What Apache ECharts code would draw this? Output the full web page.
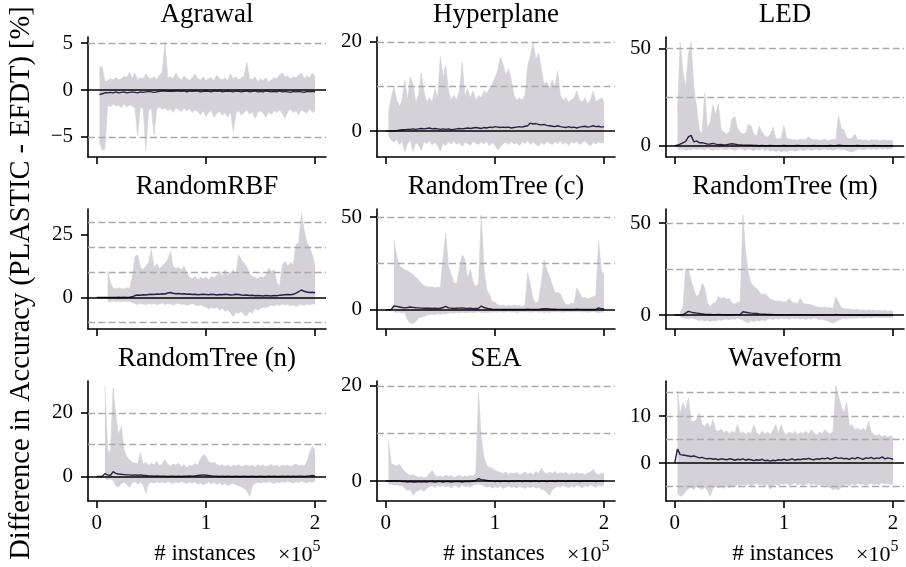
<!DOCTYPE html>
<html>
<head>
<meta charset="utf-8">
<script src="https://cdn.jsdelivr.net/npm/echarts@6/dist/echarts.min.js"></script>
<style>
html,body{margin:0;padding:0;background:#fff;}
#chart{width:906px;height:567px;}
</style>
</head>
<body>
<div id="chart"></div>
<script>
// ---- sample positions (×10^5 instances) ----
const X = [0,0.025,0.05,0.075,0.1,0.125,0.15,0.175,0.2,0.225,
0.25,0.275,0.3,0.325,0.35,0.375,0.4,0.425,0.45,0.475,
0.5,0.525,0.55,0.575,0.6,0.625,0.65,0.675,0.7,0.725,
0.75,0.775,0.8,0.825,0.85,0.875,0.9,0.925,0.95,0.975,
1,1.025,1.05,1.075,1.1,1.125,1.15,1.175,1.2,1.225,
1.25,1.275,1.3,1.325,1.35,1.375,1.4,1.425,1.45,1.475,
1.5,1.525,1.55,1.575,1.6,1.625,1.65,1.675,1.7,1.725,
1.75,1.775,1.8,1.825,1.85,1.875,1.9,1.925,1.95,1.975,
2];
const X_TICKS = [0,1,2];

const titles = ['Agrawal','Hyperplane','LED','RandomRBF','RandomTree (c)','RandomTree (m)','RandomTree (n)','SEA','Waveform'];

// ---- Agrawal ----
const agrawalUpper = [null,2.4,2.5,0.9,1.0,1.2,1.1,1.3,1.1,1.2,
1.5,1.3,1.9,1.2,1.8,1.1,1.3,1.2,1.7,1.3,
1.2,1.4,1.1,1.6,1.8,5.1,1.3,1.4,1.2,1.8,
1.3,1.1,1.5,1.2,1.0,1.3,1.7,1.2,1.1,1.4,
1.0,1.2,1.3,1.0,1.6,1.2,1.1,1.3,1.0,1.7,
1.2,1.4,1.1,1.3,1.5,3.0,1.2,1.1,1.4,0.9,
1.2,1.0,1.3,0.8,1.1,1.3,1.2,1.6,1.8,1.4,
1.5,1.2,1.4,1.3,1.6,1.8,1.2,1.5,1.3,1.8,
1.4];
const agrawalLower = [null,-5.6,-6.4,-6.3,-1.6,-1.8,-1.5,-1.7,-1.6,-1.9,
-1.5,-1.8,-1.6,-1.7,-1.9,-4.9,-1.8,-2.0,-6.4,-2.2,
-1.9,-4.8,-2.0,-1.8,-2.1,-1.9,-2.2,-2.0,-2.4,-1.9,
-2.1,-2.3,-1.9,-2.2,-2.0,-2.4,-2.1,-2.3,-2.6,-2.2,
-2.8,-2.4,-2.2,-2.9,-2.5,-2.3,-2.7,-2.4,-2.9,-2.3,
-4.4,-2.5,-2.2,-2.7,-2.4,-2.1,-2.6,-2.3,-3.0,-2.4,
-2.2,-2.5,-2.9,-2.3,-2.6,-2.2,-2.4,-2.1,-2.5,-3.0,
-2.3,-2.0,-2.4,-2.2,-2.6,-2.1,-2.3,-2.5,-2.0,-2.4,
-2.2];
const agrawalMean = [null,-0.5,-0.4,-0.3,-0.3,-0.25,-0.3,-0.2,-0.3,-0.25,
-0.2,-0.3,-0.25,-0.2,-0.25,-0.3,-0.2,-0.25,-0.2,-0.15,
-0.2,-0.25,-0.2,-0.15,-0.1,-0.1,-0.15,-0.1,-0.15,-0.1,
-0.1,-0.15,-0.1,-0.2,-0.1,-0.15,-0.1,-0.1,-0.2,-0.15,
-0.1,-0.15,-0.2,-0.1,-0.15,-0.1,-0.2,-0.15,-0.1,-0.15,
-0.2,-0.1,-0.15,-0.2,-0.15,-0.1,-0.2,-0.15,-0.1,-0.2,
-0.15,-0.2,-0.1,-0.15,-0.2,-0.15,-0.2,-0.1,-0.2,-0.15,
-0.2,-0.25,-0.15,-0.2,-0.15,-0.2,-0.25,-0.15,-0.2,-0.15,
-0.2];
const agrawalTicks = [-5,0,5];
const agrawalGrid = [-5,5];

// ---- Hyperplane ----
const hyperUpper = [null,4.0,7.5,10.0,7.0,5.5,7.0,11.5,7.0,12.2,
10.5,6.5,8.0,13.0,9.0,6.5,7.5,6.5,9.5,7.5,
16.7,12.0,14.8,9.0,7.0,8.0,7.0,9.0,15.5,8.0,
9.5,7.5,9.0,7.0,8.0,7.5,9.0,8.5,9.5,10.5,
12.0,13.5,16.5,15.0,12.5,14.0,11.5,8.0,7.0,7.5,
7.0,8.0,14.5,17.0,20.0,16.0,17.5,14.0,10.5,11.0,
9.5,11.5,10.0,13.5,8.0,7.0,7.5,6.5,7.0,7.5,
9.0,7.0,6.5,7.5,6.0,7.0,9.0,6.5,7.0,7.5,
6.5];
const hyperLower = [null,-1.0,-2.0,-2.5,-1.8,-3.0,-2.2,-4.6,-2.8,-2.0,
-4.5,-2.6,-3.0,-4.3,-2.4,-2.8,-2.2,-3.1,-2.5,-3.3,
-4.5,-2.7,-3.2,-2.4,-2.9,-2.2,-3.0,-2.6,-3.4,-2.5,
-2.8,-3.2,-2.3,-2.7,-3.0,-2.4,-2.9,-2.2,-3.3,-2.6,
-3.1,-4.2,-3.6,-2.8,-2.5,-3.0,-2.3,-2.9,-2.6,-3.2,
-2.4,-2.8,-2.2,-3.0,-2.5,-2.9,-3.4,-2.6,-3.1,-2.3,
-2.7,-3.0,-2.4,-2.8,-2.2,-2.9,-2.5,-3.2,-2.4,-2.7,
-2.3,-3.0,-2.6,-2.2,-2.8,-3.3,-2.5,-2.9,-2.4,-2.7,
-2.5];
const hyperMean = [0,0,0,0.05,0.1,0.2,0.3,0.3,0.4,0.4,
0.5,0.4,0.5,0.6,0.5,0.6,0.7,0.5,0.6,0.5,
0.4,0.5,0.4,0.5,0.3,0.4,0.5,0.6,0.5,0.6,
0.7,0.6,0.7,0.8,0.7,0.6,0.8,0.7,0.9,0.8,
1.0,0.9,0.8,0.9,0.8,0.9,0.7,0.8,0.9,1.0,
0.9,1.1,1.2,1.8,1.6,1.7,1.5,1.4,1.5,1.3,
1.2,1.1,1.0,1.2,1.0,0.9,0.8,1.0,0.8,0.9,
0.7,0.9,1.0,1.1,0.9,1.0,1.2,1.0,1.1,0.9,
1.0];
const hyperTicks = [0,20];
const hyperGrid = [10,20];

// ---- LED ----
const ledUpper = [null,18,53,38,30,47,53,30,20,8,
6,27,9,12,21,16,21.5,8,7,6,
7,14,15,9,7,6,6.5,11,10,6,
5,10,7,5,4.5,6,9.5,4,3.5,4,
10.5,4,3.5,3,3.2,2.8,3.5,3,3.2,4.5,
3.5,3,3.2,2.8,3,3.4,2.6,3,3.2,3,
15.5,9,8,4,3.5,4,6,3,3.2,2.8,
3,2.6,3.2,2.8,3,2.5,2.8,3,2.6,2.8,
2.5];
const ledLower = [null,-1.5,-2.0,-1.5,-2.5,-1.8,-2.2,-1.5,-2.0,-1.6,
-1.8,-2.2,-1.5,-1.9,-2.4,-1.7,-2.0,-1.5,-1.8,-2.1,
-1.6,-2.0,-2.4,-1.8,-1.5,-2.0,-2.3,-1.7,-2.1,-2.6,
-1.9,-2.2,-1.6,-2.5,-2.0,-2.8,-2.2,-3.0,-2.4,-3.2,
-2.6,-3.0,-2.5,-2.2,-2.8,-2.3,-2.0,-2.5,-2.2,-1.9,
-2.4,-2.1,-1.8,-2.3,-2.0,-1.7,-2.2,-1.9,-2.4,-2.0,
-1.6,-2.2,-1.8,-2.5,-2.9,-3.2,-2.4,-2.0,-1.7,-2.1,
-1.8,-1.5,-2.0,-1.6,-1.9,-1.4,-1.7,-1.5,-1.8,-1.4,
-1.6];
const ledMean = [0,0.2,0.8,1.5,2.2,4.5,5.3,2.0,2.5,1.5,
1.6,1.2,0.8,0.9,1.2,0.8,0.5,0.6,0.4,0.5,
0.8,1.0,0.8,0.5,0.4,0.3,0.3,0.2,0.2,0.1,
0.1,0,0.1,0,0,0.1,0,-0.1,0,0,
0.1,0,-0.1,0,0,0.1,0,0,-0.1,0,
0,0.1,0,0,-0.1,0,0,0.1,0,0,
0.2,0.1,0,0,-0.1,0,0,0.1,0,0,
-0.1,0,0,0.1,0,0,-0.1,0,0,0,
0];
const ledTicks = [0,50];
const ledGrid = [25,50];

// ---- RandomRBF ----
const rbfUpper = [null,null,null,null,10.4,6,3.7,3.5,3.8,3.6,
3.4,3.9,3.6,8,16.3,17,12,11,12.5,14,
19,12,13.5,11.5,12.5,13.7,15,18.3,12.3,11.5,
12,11,12.5,10,8,7.5,8.4,7,8,7.5,
8.2,7,8.5,7.8,9,10.5,8.5,11,9,10,
11,9.5,17,15,13.7,12,9.5,8.4,8,7.5,
8.4,8,9,11.7,10.5,11,6,4.4,13,14.3,
12.5,14,13,21,22,33.5,27,22,19.7,17,
12.3];
const rbfLower = [null,null,null,null,-1.5,-1.8,-1.4,-1.6,-1.5,-1.7,
-1.4,-1.6,-1.5,-2.0,-2.4,-2.8,-2.3,-2.6,-2.9,-2.4,
-2.7,-2.3,-2.9,-2.5,-2.2,-2.8,-2.4,-2.6,-3.0,-2.5,
-2.3,-2.8,-2.6,-3.1,-2.7,-2.4,-2.9,-3.3,-2.8,-3.5,
-3.8,-4.6,-3.9,-4.5,-3.8,-5.0,-4.2,-5.5,-4.8,-6.0,
-7.6,-5.8,-6.2,-5.4,-6.8,-7.3,-5.5,-6.2,-4.2,-5.0,
-4.4,-3.8,-4.2,-3.5,-3.0,-3.4,-2.8,-3.2,-2.6,-3.0,
-2.7,-3.3,-2.9,-3.6,-3.0,-2.8,-3.2,-2.6,-3.0,-2.5,
-2.7];
const rbfMean = [0,0,0,0,0,0,0,0,0.1,0,
0.1,0,0.1,0.3,0.8,1.0,0.9,1.1,1.0,1.2,
1.3,1.2,1.4,1.3,1.5,1.4,1.8,2.0,1.7,1.5,
1.6,1.4,1.5,1.3,1.4,1.2,1.3,1.1,1.2,1.3,
1.2,1.1,1.3,1.2,1.0,1.2,1.1,1.3,1.2,1.0,
1.1,1.3,1.2,1.0,0.9,1.0,0.8,0.9,0.7,0.8,
0.7,0.6,0.8,0.7,0.6,0.8,0.7,0.9,1.0,1.1,
1.2,1.1,1.3,1.8,2.4,3.0,2.5,2.2,2.0,2.1,
1.9];
const rbfTicks = [0,25];
const rbfGrid = [-10,10,20,30];

// ---- RandomTree (c) ----
const rtcUpper = [null,null,null,37.5,29,24,22.5,21.5,21,20,
19,17.5,16,14.5,13,12.6,12.2,12.5,11.8,12.3,
12,28,41.5,23.5,19,14.4,14,22.5,29.8,27,
17,21.7,15,12.6,14,51.4,22,10.8,8.1,4.5,
4.0,2.7,2.2,2.5,1.9,2.4,2.0,2.6,2.1,2.3,
1.8,2.5,19.9,13.5,6,3.5,5,15,27,21.7,
18,13.5,9,9.5,8.5,5,3.0,2.7,3.6,3.2,
11.7,9,6.3,6.8,6.0,6.5,7.2,7.5,37,21,
19];
const rtcLower = [null,null,null,-1.0,-1.5,-1.2,-1.8,-1.5,-5.5,-7.2,
-7.6,-6.5,-4.5,-4.0,-3.6,-3.0,-2.7,-2.4,-2.6,-2.2,
-2.5,-2.0,-2.3,-1.8,-1.6,-1.9,-1.5,-1.8,-1.4,-1.7,
-1.5,-1.3,-1.6,-1.4,-1.2,-1.5,-1.3,-1.6,-1.2,-1.4,
-1.1,-1.3,-1.0,-1.4,-1.2,-1.0,-1.3,-1.1,-1.5,-1.2,
-1.0,-1.3,-1.1,-1.4,-1.2,-1.0,-1.3,-1.1,-1.5,-1.2,
-1.4,-1.1,-1.3,-1.0,-1.2,-1.4,-1.1,-1.0,-1.3,-1.1,
-1.2,-1.0,-1.3,-1.1,-1.4,-1.2,-1.0,-1.3,-1.6,-1.2,
-1.4];
const rtcMean = [0,0,0,2.0,1.8,1.5,1.2,1.0,1.2,1.5,
1.3,1.1,1.0,0.9,0.8,0.8,0.9,0.7,0.8,0.7,
0.8,1.2,1.8,1.0,0.9,0.7,0.8,0.9,1.0,0.8,
0.7,0.8,0.6,0.7,0.8,2.0,1.2,0.8,0.5,0.3,
0.2,0.1,0.1,0.1,0.1,0.1,0.1,0.1,0.1,0.1,
0.1,0.1,0.3,0.2,0.1,0.1,0.2,0.4,0.6,0.5,
0.4,0.3,0.3,0.2,0.2,0.1,0.1,0.1,0.1,0.1,
0.3,0.2,0.2,0.1,0.1,0.1,0.1,0.2,1.0,0.5,
0.4];
const rtcTicks = [0,50];
const rtcGrid = [25,50];

// ---- RandomTree (m) ----
const rtmUpper = [null,null,1.8,3.6,25.5,24.5,19,13.6,10,11.5,
17.3,15,6.4,4.5,6.4,6.8,10,9,9.5,8.5,
9,6.4,6.0,6.8,7.3,54.5,33.6,22.7,17.3,15.5,
14.5,12.5,10.9,11.5,10.5,8.5,8.2,7.5,7.8,7.3,
7.0,7.5,9.0,6.8,6.5,6.2,9.1,6.4,6.0,5.8,
5.5,5.0,4.5,4.2,4.0,4.3,3.8,4.0,3.6,10,
7,4.0,3.5,3.2,3.4,3.0,2.8,3.1,2.6,2.9,
2.5,2.8,2.4,2.7,2.3,2.6,2.2,2.5,2.1,2.3,
2.0];
const rtmLower = [null,null,-1.0,-1.5,-1.8,-2.2,-1.6,-2.0,-2.5,-3.0,
-2.6,-3.4,-2.8,-3.6,-2.9,-3.2,-2.5,-3.0,-2.4,-2.2,
-2.6,-2.0,-2.4,-1.8,-2.2,-2.8,-3.5,-4.2,-3.0,-3.8,
-2.9,-3.4,-2.6,-3.1,-2.3,-2.0,-2.4,-1.9,-2.2,-1.7,
-2.0,-1.8,-2.3,-1.6,-2.0,-1.8,-2.2,-1.7,-2.4,-1.9,
-2.1,-1.6,-2.0,-2.5,-2.2,-2.8,-3.2,-3.8,-4.5,-3.6,
-2.8,-2.2,-1.8,-2.0,-1.6,-1.9,-1.5,-1.8,-1.4,-1.7,
-1.5,-1.3,-1.6,-1.4,-1.2,-1.5,-1.3,-1.6,-1.2,-1.4,
-1.3];
const rtmMean = [0,0,0,0.1,1.0,2.0,1.6,1.2,1.0,0.8,
0.6,0.4,0.3,0.3,0.2,0.2,0.3,0.2,0.2,0.1,
0.2,0.1,0.2,0.2,0.3,1.8,1.5,1.2,1.0,0.9,
0.8,0.6,0.5,0.4,0.3,0.3,0.2,0.2,0.1,0.2,
0.1,0.1,0.2,0.1,0.1,0.1,0.2,0.1,0.1,0.1,
0.1,0.0,0.1,0.1,0.0,0.1,0.1,0.1,0.1,0.3,
0.2,0.1,0.1,0.0,0.1,0.0,0.1,0.0,0.0,0.1,
0.0,0.0,0.1,0.0,0.0,0.0,0.1,0.0,0.0,0.0,
0.0];
const rtmTicks = [0,50];
const rtmGrid = [25,50];

// ---- RandomTree (n) ----
const rtnUpper = [null,null,null,28.6,8.4,7.4,27.9,19,13.2,15.8,
8.4,6.3,5.3,4.5,4.2,4.0,7.4,3.8,4.5,3.5,
4.2,3.6,4.7,3.4,4.0,5.3,3.8,3.2,4.0,3.5,
4.2,3.0,3.8,2.8,3.6,3.2,4.1,3.5,5.5,6.8,
6.3,4.7,4.2,4.5,3.8,3.4,3.7,3.2,3.6,3.0,
3.5,3.3,3.7,3.1,3.4,3.6,3.2,3.5,3.0,3.7,
3.3,3.6,3.1,3.4,3.8,3.2,3.5,3.0,3.6,3.3,
3.7,3.1,3.5,4.0,3.3,3.6,3.2,4.5,7.5,9.5,
8.0];
const rtnLower = [null,null,null,-0.6,-1.0,-0.8,-1.2,-3.0,-3.3,-2.2,
-1.8,-2.5,-3.4,-2.0,-1.6,-2.4,-1.8,-2.6,-5.3,-2.2,
-1.8,-2.1,-1.6,-2.0,-1.7,-2.1,-1.6,-1.9,-2.2,-1.7,
-2.0,-1.6,-1.9,-2.3,-1.8,-2.1,-1.7,-2.4,-2.0,-2.6,
-2.2,-1.8,-2.3,-1.9,-2.5,-2.0,-2.7,-2.2,-2.8,-2.4,
-2.1,-2.6,-2.9,-3.2,-3.8,-4.5,-6.3,-3.0,-2.2,-1.8,
-2.1,-1.7,-2.0,-1.6,-1.9,-2.2,-1.7,-2.0,-1.6,-1.9,
-1.5,-1.8,-2.1,-1.6,-1.9,-1.5,-1.8,-2.0,-1.6,-1.8,
-1.5];
const rtnMean = [0,0,0,0.9,0.5,0.3,1.5,1.0,0.8,0.7,
0.6,0.5,0.5,0.4,0.5,0.4,0.5,0.3,0.3,0.2,
0.2,0.1,0.2,0.1,0.1,0.1,0.0,0.1,0.1,0.0,
0.1,0.0,0.1,0.1,0.2,0.1,0.2,0.3,0.4,0.5,
0.4,0.3,0.2,0.1,0.1,0.0,0.1,0.0,0.1,0.0,
0.0,0.1,0.0,0.0,0.1,0.0,0.0,0.1,0.0,0.0,
0.1,0.0,0.0,0.1,0.0,0.1,0.0,0.0,0.1,0.0,
0.1,0.0,0.1,0.0,0.1,0.1,0.0,0.1,0.2,0.3,
0.2];
const rtnTicks = [0,20];
const rtnGrid = [10,20];

// ---- SEA ----
const seaUpper = [null,8.7,3.7,3.4,3.2,3.5,2.7,2.0,1.4,1.2,
1.3,1.0,0.8,0.9,0.7,0.8,1.5,2.3,1.2,0.9,
1.1,0.8,1.3,0.9,1.2,0.7,1.0,1.3,0.8,1.1,
0.9,1.2,1.0,1.4,18.7,9.0,5.0,3.2,2.8,2.7,
2.2,2.0,1.8,1.6,1.9,1.4,1.7,1.5,1.8,1.3,
1.6,1.9,1.4,1.7,1.3,2.0,1.6,2.7,1.8,1.5,
1.9,1.6,2.0,1.4,1.8,1.5,1.9,1.3,1.7,1.4,
1.8,1.5,1.6,1.3,1.7,1.9,2.5,1.6,1.3,1.7,
1.4];
const seaLower = [null,-0.8,-0.6,-0.9,-0.8,-1.0,-0.9,-1.6,-2.0,-1.8,
-3.0,-2.3,-2.0,-1.7,-2.2,-1.6,-1.2,-1.0,-1.4,-0.9,
-1.2,-0.8,-1.3,-1.0,-1.5,-0.9,-1.1,-1.4,-0.8,-1.2,
-1.0,-1.3,-0.9,-0.7,-0.6,-0.8,-1.0,-1.3,-1.1,-1.5,
-1.2,-1.4,-1.1,-1.6,-1.3,-1.0,-1.4,-1.2,-1.5,-1.1,
-1.3,-1.6,-1.2,-1.4,-1.1,-1.5,-1.3,-1.7,-1.9,-2.4,
-3.0,-1.8,-1.4,-1.1,-1.3,-0.9,-1.2,-1.4,-1.0,-1.3,
-0.9,-1.1,-1.4,-1.0,-1.2,-0.8,-1.1,-1.3,-0.9,-1.1,
-0.8];
const seaMean = [0,0,0,0,0,0,-0.1,-0.1,-0.2,-0.1,
-0.2,-0.2,-0.1,-0.2,-0.1,-0.2,-0.1,-0.1,-0.2,-0.1,
-0.1,-0.2,-0.1,-0.1,-0.2,-0.1,-0.1,-0.1,-0.2,-0.1,
-0.1,-0.1,0,0.1,0.5,0.3,0.2,0.1,0,0,
-0.1,0,-0.1,0,0,-0.1,0,-0.1,0,0,
-0.1,0,0,-0.1,0,0,-0.1,0,0,-0.1,
0,0,-0.1,0,0,0,-0.1,0,0,0,
0,-0.1,0,0,0,0,0,-0.1,0,0,
0];
const seaTicks = [0,20];
const seaGrid = [10,20];

// ---- Waveform ----
const waveUpper = [null,15.4,10.5,12.9,11.4,13.9,9.0,8.8,9.3,10.7,
8.2,7.8,8.6,7.5,9.3,7.1,6.8,7.3,6.5,6.9,
6.2,6.8,6.4,8.2,6.3,6.7,6.1,6.6,6.3,8.2,
6.5,6.0,6.8,6.2,6.6,6.1,7.0,8.2,6.3,8.2,
6.5,6.0,6.7,6.2,6.8,6.1,6.5,6.3,6.8,6.2,
7.1,6.4,6.0,6.6,6.3,7.1,6.5,6.2,6.8,16.6,
14.3,12.1,10.7,12.9,7.9,8.2,7.1,7.5,7.0,7.4,
6.9,8.9,6.6,6.0,5.8,6.1,5.6,5.9,5.5,5.8,
5.4];
const waveLower = [null,-6.4,-7.1,-6.8,-6.0,-5.5,-5.2,-5.7,-5.0,-5.4,
-5.6,-5.2,-5.8,-7.1,-5.4,-5.0,-5.3,-5.1,-5.4,-5.0,
-5.2,-4.8,-5.1,-4.6,-4.9,-4.5,-4.8,-4.4,-4.9,-4.6,
-4.3,-4.7,-4.5,-4.9,-4.4,-5.7,-4.8,-4.5,-4.9,-4.4,
-4.6,-4.3,-4.8,-4.5,-4.2,-4.7,-4.4,-4.9,-4.5,-4.3,
-4.7,-4.4,-4.8,-4.5,-4.9,-4.6,-5.0,-5.3,-5.7,-5.5,
-5.7,-5.2,-4.8,-4.5,-4.9,-4.4,-4.7,-4.3,-4.6,-4.4,
-4.8,-4.5,-4.3,-4.7,-4.4,-4.6,-4.2,-4.5,-4.3,-4.6,
-4.4];
const waveMean = [0,3.0,1.8,1.7,1.6,1.5,1.4,1.5,1.3,1.1,
1.2,1.0,0.9,1.0,0.8,0.9,0.7,0.9,0.8,0.7,
0.9,0.8,0.6,0.8,0.7,0.9,0.6,0.8,0.7,0.5,
0.7,0.6,0.8,0.5,0.6,0.4,0.6,0.5,0.7,0.6,
0.8,0.6,0.7,0.9,0.6,0.8,0.7,0.9,0.8,1.0,
0.8,0.7,0.9,0.8,1.0,0.9,1.1,0.8,1.0,1.2,
1.0,1.1,0.9,1.0,0.8,1.1,0.9,1.2,1.0,0.8,
1.1,1.0,1.2,0.9,1.1,1.0,1.3,0.9,1.1,1.0,
0.8];
const waveTicks = [0,10];
const waveGrid = [-5,5,10,15];

// ---- panel wiring ----
const panels = [
  {u:agrawalUpper, l:agrawalLower, m:agrawalMean, t:agrawalTicks, g:agrawalGrid, min:-7.13, max:5.64},
  {u:hyperUpper,   l:hyperLower,   m:hyperMean,   t:hyperTicks,   g:hyperGrid,   min:-5.8,  max:21.1},
  {u:ledUpper,     l:ledLower,     m:ledMean,     t:ledTicks,     g:ledGrid,     min:-5.8,  max:55.8},
  {u:rbfUpper,     l:rbfLower,     m:rbfMean,     t:rbfTicks,     g:rbfGrid,     min:-12.5, max:35.2},
  {u:rtcUpper,     l:rtcLower,     m:rtcMean,     t:rtcTicks,     g:rtcGrid,     min:-10.4, max:54.4},
  {u:rtmUpper,     l:rtmLower,     m:rtmMean,     t:rtmTicks,     g:rtmGrid,     min:-7.6,  max:57.6},
  {u:rtnUpper,     l:rtnLower,     m:rtnMean,     t:rtnTicks,     g:rtnGrid,     min:-7.7,  max:30.0},
  {u:seaUpper,     l:seaLower,     m:seaMean,     t:seaTicks,     g:seaGrid,     min:-4.2,  max:21.0},
  {u:waveUpper,    l:waveLower,    m:waveMean,    t:waveTicks,    g:waveGrid,    min:-8.1,  max:17.5}
];

const FONT = "'Liberation Serif','DejaVu Serif',serif";
const BAND = '#d4d2d8';
const MEAN = '#2c1e3e';
const COLS = [88, 377, 666], ROWS = [37, 209, 381], GW = 238, GH = 120;

const pairs = arr => X.map((x, i) => [x, arr[i] === null || arr[i] === undefined ? null : arr[i]]);
const fmt = v => (v < 0 ? '\u2212' + Math.abs(v) : String(v));

const grids = [], xAxes = [], yAxes = [], series = [], graphics = [];
panels.forEach((p, k) => {
  const c = k % 3, r = Math.floor(k / 3);
  grids.push({left: COLS[c], top: ROWS[r], width: GW, height: GH});
  xAxes.push({
    type: 'value', gridIndex: k, min: -0.08, max: 2.1,
    axisLine: {show: true, onZero: false, lineStyle: {color: '#000', width: 1.6}},
    axisTick: {show: true, inside: false, length: 7, customValues: X_TICKS, lineStyle: {color: '#000', width: 1.6}},
    axisLabel: {show: r === 2, customValues: X_TICKS, formatter: v => String(v), fontSize: 21, fontFamily: FONT, color: '#000', margin: 12},
    splitLine: {show: false}
  });
  yAxes.push({
    type: 'value', gridIndex: k, min: p.min, max: p.max,
    axisLine: {show: true, onZero: false, lineStyle: {color: '#000', width: 1.6}},
    axisTick: {show: true, inside: false, length: 7, customValues: p.t, lineStyle: {color: '#000', width: 1.6}},
    axisLabel: {show: true, customValues: p.t, formatter: fmt, fontSize: 21, fontFamily: FONT, color: '#000', margin: 15},
    splitLine: {show: false}
  });
  const common = {type: 'line', xAxisIndex: k, yAxisIndex: k, symbol: 'none', silent: true, animation: false};
  series.push(Object.assign({}, common, {
    data: pairs(p.u), z: 1,
    lineStyle: {width: 0.6, color: BAND}, areaStyle: {color: BAND, opacity: 1, origin: 'auto'}
  }));
  series.push(Object.assign({}, common, {
    data: pairs(p.l), z: 1,
    lineStyle: {width: 0.6, color: BAND}, areaStyle: {color: BAND, opacity: 1, origin: 'auto'}
  }));
  series.push(Object.assign({}, common, {
    data: pairs(p.m), z: 3,
    lineStyle: {width: 0, opacity: 0},
    markLine: {
      silent: true, symbol: ['none', 'none'], label: {show: false}, animation: false,
      data: p.g.map(v => ({yAxis: v, lineStyle: {type: [7, 3.3], color: '#aaaaaa', width: 1.3}}))
        .concat([{yAxis: 0, lineStyle: {type: 'solid', color: '#000', width: 1.6}}])
    }
  }));
  series.push(Object.assign({}, common, {
    data: pairs(p.m), z: 4,
    lineStyle: {width: 1.4, color: MEAN}
  }));
  graphics.push({
    type: 'text', x: COLS[c] + GW / 2, y: ROWS[r] - 22,
    style: {text: titles[k], font: '27px ' + FONT, fill: '#000', align: 'center', textAlign: 'center', verticalAlign: 'middle', textVerticalAlign: 'middle'}
  });
  if (r === 2) {
    graphics.push({
      type: 'text', x: COLS[c] + GW / 2 - 2, y: 554,
      style: {text: '# instances', font: '23px ' + FONT, fill: '#000', align: 'center', textAlign: 'center', verticalAlign: 'middle', textVerticalAlign: 'middle'}
    });
    graphics.push({
      type: 'text', x: COLS[c] + GW - 13.5, y: 555,
      style: {text: '\u00d710', font: '22px ' + FONT, fill: '#000', align: 'right', textAlign: 'right', verticalAlign: 'middle', textVerticalAlign: 'middle'}
    });
    graphics.push({
      type: 'text', x: COLS[c] + GW - 13.5, y: 547,
      style: {text: '5', font: '16px ' + FONT, fill: '#000', align: 'left', textAlign: 'left', verticalAlign: 'middle', textVerticalAlign: 'middle'}
    });
  }
});
graphics.push({
  type: 'text', x: 22, y: 283, rotation: Math.PI / 2,
  style: {text: 'Difference in Accuracy (PLASTIC - EFDT) [%]', font: '28.5px ' + FONT, fill: '#000', align: 'center', textAlign: 'center', verticalAlign: 'middle', textVerticalAlign: 'middle'}
});

const chart = echarts.init(document.getElementById('chart'), null, {renderer: 'canvas'});
chart.setOption({
  animation: false,
  backgroundColor: '#fff',
  grid: grids, xAxis: xAxes, yAxis: yAxes, series: series,
  graphic: {elements: graphics}
});
</script>
</body>
</html>
